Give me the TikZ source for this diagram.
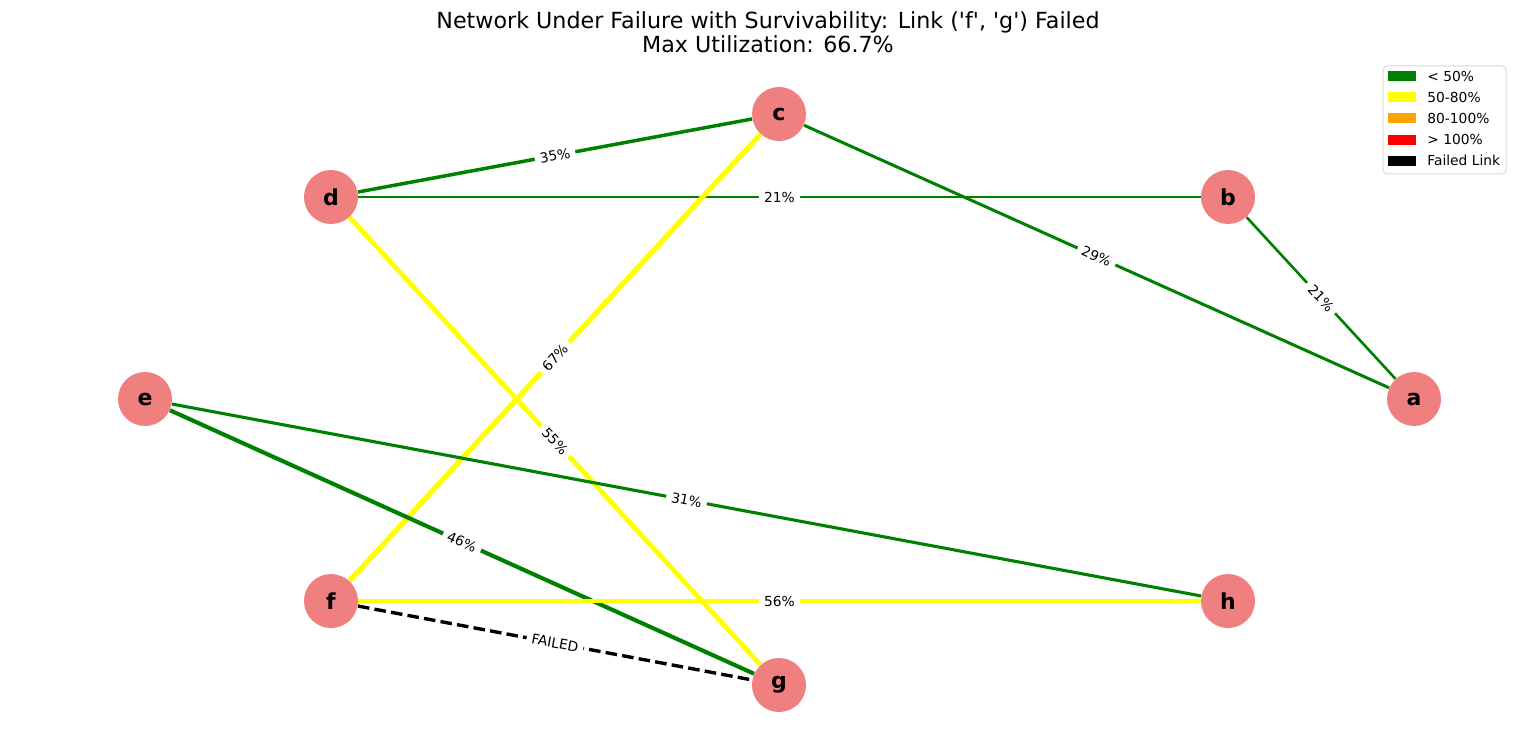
\documentclass[tikz,border=0pt]{standalone}
\usepackage{fontspec}
\setmainfont{DejaVu Sans}[Ligatures=TeXOff]
\usetikzlibrary{positioning,backgrounds}
\definecolor{cgreen}{HTML}{008000}
\definecolor{cyellow}{HTML}{FFFF00}
\definecolor{corange}{HTML}{FFA500}
\definecolor{cred}{HTML}{FF0000}
\definecolor{cnode}{HTML}{F08080}
\tikzset{
 router/.style={circle, fill=cnode, minimum size=27pt, inner sep=0pt,
 font=\fontsize{11}{13}\selectfont\bfseries},
 ok/.style={draw=cgreen, line width=#1},
 warn/.style={draw=cyellow, line width=#1},
 down/.style={draw=black, line width=1.7pt, dash pattern=on 5.8pt off 2.6pt},
 util/.style={midway, sloped, fill=white, rounded corners=2pt, inner xsep=2.6pt, inner ysep=1.8pt,
 font=\fontsize{6.9}{8}\selectfont},
 swatch/.style={fill=#1, minimum width=14pt, minimum height=5pt, inner sep=0pt},
 key/.style={anchor=west, inner sep=0pt, font=\fontsize{6.9}{8}\selectfont},
}

\begin{document}
\begin{tikzpicture}[x=0.5pt, y=-0.5pt]
 \useasboundingbox (0,0) rectangle (1536,754);
 % title
 \node[align=center, font=\fontsize{11.1}{12}\selectfont] (title) at (768,32)
 {Network Under Failure with Survivability: Link ('f', 'g') Failed\\Max Utilization: 66.7\%};
 % routers
 \node[router] (c) at (779,114) {c};
 \node[router] (d) at (331,197) {d};
 \node[router] (b) at (1228,197) {b};
 \node[router] (e) at (145,399) {e};
 \node[router] (a) at (1414,399) {a};
 \node[router] (f) at (331,601) {f};
 \node[router] (h) at (1228,601) {h};
 \node[router] (g) at (779,685) {g};
 % links
 \begin{scope}[on background layer]
 \draw[ok=1.75pt] (d) -- node[util]{35\%} (c);
 \draw[ok=1.3pt] (d) -- node[util]{21\%} (b);
 \draw[ok=1.5pt] (c) -- node[util]{29\%} (a);
 \draw[ok=1.3pt] (b) -- node[util]{21\%} (a);
 \draw[warn=2.6pt] (f) -- node[util]{67\%} (c);
 \draw[warn=2.4pt] (d) -- node[util]{55\%} (g);
 \draw[ok=1.55pt] (e) -- node[util]{31\%} (h);
 \draw[ok=2.05pt] (e) -- node[util]{46\%} (g);
 \draw[warn=2.4pt] (f) -- node[util]{56\%} (h);
 \draw[down] (f) -- node[util]{FAILED} (g);
 \end{scope}
 % legend
 \draw[draw=black!15, fill=white, rounded corners=2pt, line width=0.5pt] (1383,66) rectangle (1506,174);
 \foreach \col/\txt [count=\i] in {cgreen/{< 50\%}, cyellow/{50-80\%}, corange/{80-100\%}, cred/{> 100\%}, black/{Failed Link}} {
 \node[swatch=\col] (sw\i) at (1402,{76+21.2*(\i-1)}) {};
 \node[key] (lab\i) at (1427,{76+21.2*(\i-1)}) {\txt};
 }
\end{tikzpicture}
\end{document}
